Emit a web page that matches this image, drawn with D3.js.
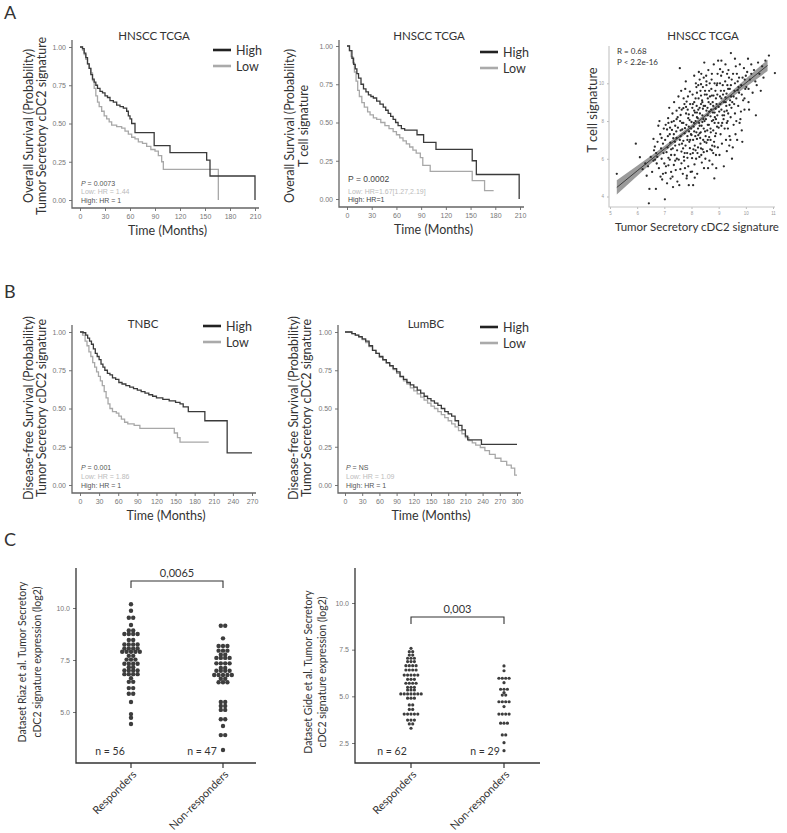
<!DOCTYPE html>
<html>
<head>
<meta charset="utf-8">
<script src="https://cdn.jsdelivr.net/npm/d3@7"></script>
<style>
  body { margin: 0; background: #fff; }
  svg { display: block; }
  text { font-family: Lato, "Open Sans", sans-serif; fill: #333; }
  .tk text { font-family: "Liberation Sans", Arial, sans-serif; font-size: 7px; fill: #777; }
  .tk line { stroke: #777; }
  .tiny text { font-family: "Liberation Sans", Arial, sans-serif; font-size: 4.5px; fill: #999; }
  .tiny line { stroke: #bbb; }
  .ann { font-family: "Liberation Sans", Arial, sans-serif; font-size: 7px; }
</style>
</head>
<body>
<script>
var width = 787,
    height = 833;

// ---- data ----
var survTicks = [0, 0.25, 0.5, 0.75, 1];
var monthTicks210 = [0, 30, 60, 90, 120, 150, 180, 210];
var monthTicks270 = [0, 30, 60, 90, 120, 150, 180, 210, 240, 270];
var monthTicks300 = [0, 30, 60, 90, 120, 150, 180, 210, 240, 270, 300];

// HNSCC TCGA, tumor secretory cDC2 signature  [months, survival]
var hnCdcHigh = [[0,1],[3,0.99],[5,0.96],[7,0.93],[9,0.89],[11,0.86],[13,0.82],[15,0.79],[17,0.77],[19,0.75],[21,0.73],[24,0.71],[27,0.70],[30,0.68],[33,0.67],[36,0.65],[40,0.64],[44,0.62],[48,0.61],[52,0.60],[56,0.58],[58,0.55],[60,0.53],[62,0.50],[66,0.44],[89,0.355],[108,0.31],[152,0.26],[156,0.157],[210,0]];
var hnCdcLow = [[0,1],[3,0.98],[5,0.95],[7,0.92],[9,0.89],[11,0.86],[13,0.83],[15,0.78],[17,0.73],[19,0.68],[21,0.64],[23,0.61],[26,0.58],[29,0.55],[32,0.53],[35,0.51],[38,0.49],[44,0.48],[50,0.47],[54,0.45],[58,0.43],[62,0.41],[66,0.40],[70,0.38],[75,0.37],[80,0.35],[85,0.33],[90,0.32],[94,0.29],[98,0.25],[100,0.20],[166,0]];

// HNSCC TCGA, T cell signature
var hnTHigh = [[0,1],[3,0.97],[6,0.92],[8,0.88],[10,0.85],[12,0.82],[14,0.79],[17,0.75],[20,0.72],[23,0.70],[26,0.68],[29,0.67],[32,0.66],[36,0.64],[40,0.62],[44,0.60],[47,0.58],[50,0.56],[53,0.54],[56,0.52],[59,0.50],[62,0.48],[66,0.46],[70,0.45],[85,0.42],[93,0.37],[108,0.325],[152,0.25],[157,0.16],[209,0]];
var hnTLow = [[0,1],[3,0.97],[5,0.93],[7,0.89],[9,0.83],[11,0.77],[13,0.71],[15,0.67],[18,0.63],[21,0.60],[25,0.57],[28,0.55],[32,0.53],[36,0.52],[41,0.50],[46,0.48],[51,0.46],[56,0.44],[60,0.42],[64,0.40],[68,0.38],[72,0.36],[76,0.34],[80,0.32],[84,0.30],[89,0.27],[92,0.22],[101,0.18],[152,0.12],[167,0.055],[178,0.055]];

// TNBC
var tnbcHigh = [[0,1],[5,0.995],[9,0.98],[12,0.96],[15,0.94],[18,0.92],[21,0.89],[24,0.86],[27,0.84],[30,0.82],[33,0.79],[36,0.77],[39,0.75],[43,0.73],[47,0.72],[51,0.70],[56,0.69],[61,0.67],[66,0.66],[72,0.65],[78,0.64],[84,0.63],[90,0.62],[96,0.61],[102,0.60],[108,0.59],[114,0.58],[120,0.57],[130,0.56],[140,0.55],[150,0.54],[157,0.53],[162,0.51],[170,0.48],[196,0.42],[231,0.21],[270,0.21]];
var tnbcLow = [[0,1],[4,0.98],[8,0.94],[11,0.91],[14,0.87],[17,0.84],[20,0.80],[23,0.77],[26,0.74],[29,0.71],[32,0.68],[35,0.65],[38,0.61],[41,0.57],[44,0.53],[47,0.50],[51,0.48],[57,0.47],[61,0.45],[65,0.43],[70,0.41],[75,0.40],[85,0.39],[94,0.37],[148,0.34],[153,0.31],[157,0.28],[202,0.28]];

// LumBC
var lumHigh = [[0,1],[6,1.0],[12,0.99],[18,0.98],[24,0.97],[30,0.955],[36,0.94],[42,0.91],[48,0.88],[54,0.86],[60,0.84],[66,0.82],[72,0.80],[78,0.78],[84,0.76],[90,0.74],[96,0.71],[102,0.69],[108,0.67],[114,0.655],[120,0.64],[126,0.62],[132,0.60],[138,0.58],[144,0.565],[150,0.55],[156,0.535],[162,0.52],[168,0.50],[174,0.48],[180,0.465],[186,0.45],[192,0.42],[198,0.39],[204,0.36],[210,0.32],[214,0.295],[238,0.265],[300,0.265]];
var lumLow = [[0,1],[6,1.0],[12,0.99],[18,0.98],[24,0.965],[30,0.95],[36,0.93],[42,0.905],[48,0.88],[54,0.86],[60,0.835],[66,0.815],[72,0.795],[78,0.775],[84,0.755],[90,0.73],[96,0.705],[102,0.68],[108,0.66],[114,0.635],[120,0.615],[126,0.595],[132,0.575],[138,0.555],[144,0.535],[150,0.515],[156,0.50],[162,0.48],[168,0.46],[174,0.44],[180,0.42],[186,0.40],[192,0.38],[198,0.355],[204,0.335],[210,0.31],[216,0.29],[222,0.275],[228,0.26],[236,0.245],[244,0.225],[252,0.20],[262,0.175],[272,0.155],[282,0.13],[290,0.11],[296,0.065],[300,0.065]];

// scatter: [cDC2 signature, T cell signature]
var scatterPts = [
 [5.25,5.2],[5.95,6.8],[6.1,6.08],[6.35,5.1],[6.43,3.64],[6.45,4.4],[6.4,5.6],[6.2,5.45],[6.55,5.3],[6.3,5.75],[6.5,6.1],[6.6,5.9],
 [6.69,4.4],[6.65,6.64],[6.7,6.3],[6.75,6.9],[6.8,5.5],[6.85,7.3],[6.6,7.05],[6.9,6.0],[6.95,5.2],[6.72,5.75],[6.88,6.55],[6.98,7.6],[6.92,4.9],[6.78,7.75],[6.82,8.0],[6.95,6.8],[6.62,6.45],[7.0,5.75],[6.86,5.05],[6.74,6.1],[6.97,6.3],[6.9,7.1],[6.66,5.95],
 [7.02,3.85],[7.05,5.25],[7.1,4.7],[7.15,5.65],[7.2,5.95],[7.25,6.2],[7.3,5.05],[7.35,5.67],[7.4,6.7],[7.45,7.1],[7.05,7.8],[7.14,8.15],[7.1,7.55],[7.2,7.3],[7.28,7.53],[7.33,7.09],[7.38,6.2],[7.42,5.4],[7.48,4.79],[7.12,6.6],[7.22,6.85],[7.3,8.4],[7.35,8.0],[7.18,8.7],[7.45,8.55],[7.4,7.75],[7.47,6.45],[7.25,5.3],[7.08,6.35],[7.15,6.05],[7.32,4.5],[7.4,5.9],[7.03,7.0],[7.27,7.95],[7.36,9.0],[7.44,7.45],[7.49,8.2],[7.21,7.65],[7.13,7.2],[7.46,6.0],[7.39,6.9],[7.06,5.6],[7.31,6.55],[7.23,4.95],
 [7.57,10.8],[7.6,8.32],[7.7,8.68],[7.82,9.03],[7.94,9.56],[7.88,8.15],[7.76,7.62],[7.63,6.38],[7.94,6.56],[7.63,5.76],[7.76,5.5],[7.82,4.96],[7.55,4.6],[7.6,7.2],[7.65,7.9],[7.7,6.95],[7.72,6.1],[7.75,7.35],[7.8,8.4],[7.85,7.0],[7.9,7.7],[7.95,8.9],[7.98,7.3],[7.52,9.3],[7.58,8.0],[7.62,9.6],[7.68,5.2],[7.73,5.9],[7.78,6.7],[7.84,6.3],[7.88,5.6],[7.92,6.9],[7.97,5.3],[7.55,6.75],[7.66,7.55],[7.74,8.9],[7.81,7.8],[7.87,9.3],[7.93,8.05],[7.99,7.6],[7.53,5.95],[7.59,5.45],[7.64,8.6],[7.71,9.2],[7.79,10.1],[7.86,8.6],[7.91,7.45],[7.96,6.25],[7.5,7.65],[7.69,6.55],[7.83,5.1],[7.9,4.6],[7.57,7.0],[7.77,9.7],[7.85,7.2],
 [8.02,6.03],[8.02,5.32],[8.0,7.26],[8.06,4.6],[8.05,8.3],[8.08,7.7],[8.1,9.0],[8.12,6.7],[8.15,8.0],[8.18,7.4],[8.2,9.5],[8.22,6.3],[8.25,8.6],[8.28,7.9],[8.3,10.2],[8.32,7.1],[8.35,8.9],[8.38,5.8],[8.4,8.3],[8.42,9.8],[8.45,7.6],[8.47,11.1],[8.48,6.9],[8.04,9.4],[8.07,6.5],[8.11,5.7],[8.14,7.2],[8.16,10.0],[8.19,8.8],[8.21,5.2],[8.24,7.6],[8.26,9.2],[8.29,6.1],[8.31,8.4],[8.34,7.4],[8.36,10.5],[8.39,9.1],[8.41,6.5],[8.44,8.1],[8.46,5.5],[8.49,9.4],[8.03,8.7],[8.09,7.9],[8.13,8.45],[8.17,6.0],[8.23,8.15],[8.27,10.6],[8.33,6.8],[8.37,7.75],[8.43,7.0],[8.06,7.0],[8.12,5.0],[8.18,9.8],[8.24,6.6],[8.3,8.7],[8.36,6.2],[8.42,8.65],[8.48,8.0],[8.1,10.4],[8.2,7.05],[8.33,9.6],[8.45,10.3],
 [8.5,8.8],[8.52,7.2],[8.55,9.9],[8.57,6.4],[8.6,8.3],[8.62,10.7],[8.64,7.8],[8.66,5.9],[8.68,9.3],[8.7,7.0],[8.72,8.6],[8.74,10.2],[8.76,6.7],[8.78,9.0],[8.8,7.5],[8.82,11.0],[8.84,4.96],[8.86,8.2],[8.88,9.6],[8.9,6.2],[8.92,8.9],[8.94,7.7],[8.96,10.5],[8.98,11.2],[8.51,6.0],[8.53,8.1],[8.56,9.4],[8.58,7.5],[8.61,5.5],[8.63,9.0],[8.65,8.5],[8.67,10.0],[8.69,6.5],[8.71,7.4],[8.73,9.7],[8.75,8.0],[8.77,5.7],[8.79,8.45],[8.81,9.35],[8.83,6.9],[8.85,10.0],[8.87,7.2],[8.89,8.65],[8.91,5.5],[8.93,9.9],[8.95,8.3],[8.97,6.6],[8.99,7.9],[8.54,10.4],[8.6,7.0],[8.7,8.9],[8.8,6.3],[8.9,9.2],[8.59,8.7],[8.85,7.9],
 [9.02,8.5],[9.05,10.0],[9.07,7.3],[9.1,9.2],[9.12,6.8],[9.15,10.6],[9.18,8.1],[9.2,9.6],[9.22,7.6],[9.25,11.0],[9.28,8.8],[9.3,6.4],[9.32,9.9],[9.35,8.4],[9.38,10.3],[9.4,7.2],[9.42,9.1],[9.45,11.6],[9.47,8.7],[9.49,6.0],[9.03,6.2],[9.06,8.9],[9.09,10.4],[9.13,7.9],[9.16,9.4],[9.19,5.6],[9.21,8.5],[9.24,10.1],[9.27,7.0],[9.29,9.45],[9.33,8.0],[9.36,10.7],[9.39,6.7],[9.41,9.7],[9.44,8.2],[9.48,10.2],[9.08,9.6],[9.14,8.3],[9.26,9.0],[9.34,7.6],[9.46,9.3],[9.1,11.2],[9.31,10.5],[9.43,7.0],
 [9.5,9.0],[9.53,10.5],[9.55,7.8],[9.58,9.6],[9.6,8.4],[9.63,10.9],[9.65,9.2],[9.68,7.0],[9.7,10.1],[9.72,8.8],[9.75,9.5],[9.78,11.0],[9.8,8.1],[9.83,9.9],[9.85,7.5],[9.88,10.3],[9.9,9.1],[9.93,10.8],[9.95,8.6],[9.98,9.7],[9.52,6.6],[9.57,8.9],[9.62,7.3],[9.67,10.5],[9.73,9.8],[9.77,7.9],[9.87,6.9],[9.96,10.2],[9.6,11.3],[9.82,8.5],
 [10.02,9.8],[10.05,10.6],[10.1,9.0],[10.15,10.2],[10.2,11.0],[10.25,9.5],[10.3,10.7],[10.37,8.3],[10.4,9.9],[10.45,11.1],[10.5,10.5],[10.55,9.6],[10.6,10.9],[10.65,10.3],[10.72,11.2],[10.85,11.47],[11.07,10.54],[10.12,8.6],[10.35,10.1],[10.08,11.3],
 [8.05,8.9],[8.15,9.2],[8.25,9.9],[8.35,9.35],[8.45,8.8],[8.55,8.55],[8.65,9.6],[8.75,9.35],[8.85,8.45],[8.95,9.4],[9.05,9.3],[9.15,9.9],[9.25,9.25],[9.35,9.7],[9.45,9.9],[8.1,8.55],[8.2,8.2],[8.3,7.75],[8.4,9.0],[8.5,9.6],[8.6,9.2],[8.7,8.25],[8.8,8.8],[8.9,8.1],[9.0,8.75],[9.1,8.6],[9.2,9.0],[9.3,8.55],[9.4,8.85],[7.9,8.35],[7.8,8.75],[7.7,7.9],[7.6,7.5],[8.0,7.95],[8.1,7.45],[8.2,8.45],[8.3,7.35],[8.4,7.95],[8.5,7.45],[8.6,7.8],[8.7,7.6],[8.8,8.05],[8.9,7.35],[9.0,7.65],[9.1,7.75],[9.2,8.3],[9.3,7.9],[7.65,6.8],[7.75,6.3],[7.85,6.05],[7.95,7.0],[8.05,6.3],[8.15,6.45],[8.25,7.25],[8.35,6.55],[8.45,6.35],[8.55,6.85],[8.65,7.15],[8.75,6.45],[8.85,6.65],[7.35,7.3],[7.25,6.5],[7.45,8.1],[7.55,8.7],[7.15,7.9],[9.55,9.3],[9.65,8.0],[9.75,10.3],[9.85,9.4],[9.95,9.2],[9.6,10.0],[9.7,9.65],[10.0,10.4],[10.1,9.7],[10.2,10.5],[8.95,10.0],[9.05,10.75],[8.75,10.5],[8.55,10.1],[8.35,9.95]
];
var scatterXTicks = [5, 6, 7, 8, 9, 10, 11];
var scatterYTicks = [4, 6, 8, 10];
// fitted line with confidence band
var fitX  = [5.25, 6, 7, 8, 9, 10, 10.8];
var fitY  = [4.48, 5.36, 6.52, 7.69, 8.85, 10.02, 10.95];
var fitLo = [4.10, 5.09, 6.36, 7.58, 8.72, 9.80, 10.65];
var fitHi = [4.86, 5.63, 6.68, 7.80, 8.98, 10.24, 11.25];

// panel C dot plots
var groups = ["Responders", "Non-responders"];
var riazResp = [10.18,9.87,9.53,9.53,9.18,8.92,8.92,8.75,8.75,8.75,8.75,8.46,8.46,8.25,8.25,8.25,8.25,8.05,8.05,8.05,8.05,7.9,7.9,7.9,7.9,7.9,7.7,7.7,7.52,7.52,7.52,7.32,7.32,7.32,7.32,7.15,7.15,7.0,7.0,7.0,7.0,6.82,6.82,6.82,6.82,6.62,6.45,6.45,6.15,6.15,5.88,5.88,5.48,4.9,4.72,4.42];
var riazNonResp = [9.15,9.15,8.54,8.17,8.17,8.17,7.95,7.95,7.95,7.75,7.75,7.6,7.6,7.6,7.6,7.34,7.34,7.34,7.34,7.12,7.12,6.98,6.98,6.98,6.98,6.78,6.78,6.78,6.78,6.78,6.6,6.6,6.43,6.43,6.43,5.48,5.48,5.29,5.29,5.1,5.1,4.65,4.65,4.33,3.89,3.89,3.17];
var gideResp = [7.57,7.39,7.39,7.21,7.21,7.04,7.04,7.04,6.86,6.86,6.86,6.64,6.64,6.64,6.64,6.41,6.41,6.41,6.41,6.14,6.14,6.14,6.14,6.14,5.91,5.91,5.91,5.7,5.7,5.7,5.7,5.48,5.48,5.48,5.34,5.34,5.34,5.13,5.13,5.13,5.13,5.13,5.13,5.13,4.9,4.9,4.9,4.54,4.54,4.3,4.3,4.05,4.05,4.05,4.05,4.05,3.73,3.73,3.73,3.52,3.52,3.29];
var gideNonResp = [6.63,6.37,5.97,5.97,5.97,5.97,5.73,5.38,5.38,5.38,5.2,5.07,5.07,4.71,4.71,4.71,4.71,4.45,4.05,4.05,4.05,4.05,3.56,3.56,3.56,2.93,2.93,2.52,2.09];
var riazTicks = [5, 7.5, 10];
var gideTicks = [2.5, 5, 7.5, 10];

var svg = d3.select("body").append("svg")
    .attr("width", width)
    .attr("height", height);

// panel letters
svg.append("text").attr("x", 4).attr("y", 19).style("font-size", "18px").text("A");
svg.append("text").attr("x", 4).attr("y", 298).style("font-size", "18px").text("B");
svg.append("text").attr("x", 4).attr("y", 546).style("font-size", "18px").text("C");

function rotLabel(x, y, txt, size) {
  svg.append("text")
      .attr("transform", "translate(" + x + "," + y + ") rotate(-90)")
      .attr("text-anchor", "middle")
      .attr("dominant-baseline", "central")
      .style("font-size", size + "px")
      .text(txt);
}

//kaplan-meier panel
function km(o) {
  var x = d3.scaleLinear().domain([0, o.tmax]).range(o.xr);
  var y = d3.scaleLinear().domain([0, 1]).range(o.yr);
  var g = svg.append("g");

  g.append("g").attr("class", "tk")
      .attr("transform", "translate(" + o.ax + ",0)")
      .call(d3.axisLeft(y).tickValues(survTicks).tickFormat(d3.format(".2f")).tickSize(3))
      .call(function(a){ a.select(".domain").remove(); });
  g.append("g").attr("class", "tk")
      .attr("transform", "translate(0," + o.base + ")")
      .call(d3.axisBottom(x).tickValues(o.ticks).tickSize(3))
      .call(function(a){ a.select(".domain").remove(); });

  g.append("path").attr("fill", "none").attr("stroke", "#666").attr("stroke-width", 1.3)
      .attr("d", "M" + o.ax + "," + o.top + "V" + o.base + "H" + (o.xr[1] + 4));

  var line = d3.line().x(function(d){ return x(d[0]); }).y(function(d){ return y(d[1]); })
      .curve(d3.curveStepAfter);
  g.append("path").datum(o.low).attr("fill", "none").attr("stroke", "#a8a8a8")
      .attr("stroke-width", 1.3).attr("d", line);
  g.append("path").datum(o.high).attr("fill", "none").attr("stroke", "#3a3a3a")
      .attr("stroke-width", 1.3).attr("d", line);

  g.append("text").attr("x", o.titleX).attr("y", o.titleY).attr("text-anchor", "middle")
      .style("font-size", "11.5px").text(o.title);

  // legend
  [["High", "#222"], ["Low", "#aaa"]].forEach(function(l, i) {
    var ly = o.legY + i * 16;
    g.append("line").attr("x1", o.legX).attr("x2", o.legX + 18).attr("y1", ly).attr("y2", ly)
        .attr("stroke", l[1]).attr("stroke-width", 2.6);
    g.append("text").attr("x", o.legX + 23).attr("y", ly + 4.5).style("font-size", "12.5px").text(l[0]);
  });

  g.append("text").attr("x", (o.xr[0] + o.xr[1]) / 2).attr("y", o.base + 27)
      .attr("text-anchor", "middle").style("font-size", "12.5px").text("Time (Months)");

  rotLabel(o.lab1X, o.labY, o.lab1, 12.5);
  rotLabel(o.lab2X, o.labY, o.lab2, 12.5);

  o.ann.forEach(function(a) {
    var t = g.append("text").attr("class", "ann").attr("x", o.xr[0] + 1).attr("y", a.y)
        .style("fill", a.color).style("font-size", (a.size || 7) + "px");
    if (a.italicP) {
      t.append("tspan").style("font-style", "italic").style("fill", a.color).text("P");
      t.append("tspan").style("fill", a.color).text(a.text);
    } else {
      t.text(a.text);
    }
  });
}

km({ tmax: 210, ticks: monthTicks210, xr: [80, 255], yr: [200, 47], ax: 72, top: 40, base: 208,
     high: hnCdcHigh, low: hnCdcLow, title: "HNSCC TCGA", titleX: 154, titleY: 40,
     legX: 213, legY: 50, lab1: "Overall Survival (Probability)", lab2: "Tumor Secretory cDC2 signature",
     lab1X: 28, lab2X: 41, labY: 126,
     ann: [{ y: 186, text: " = 0.0073", italicP: true, color: "#555" },
           { y: 194, text: "Low: HR = 1.44", color: "#bbb" },
           { y: 202.5, text: "High: HR = 1", color: "#555" }] });

km({ tmax: 210, ticks: monthTicks210, xr: [347, 520], yr: [199, 46], ax: 339, top: 40, base: 207,
     high: hnTHigh, low: hnTLow, title: "HNSCC TCGA", titleX: 429, titleY: 40,
     legX: 480, legY: 52, lab1: "Overall Survival (Probability)", lab2: "T cell signature",
     lab1X: 289, lab2X: 303, labY: 126,
     ann: [{ y: 181.5, text: "P = 0.0002", color: "#444", size: 8.5 },
           { y: 193.5, text: "Low: HR=1.67[1.27,2.19]", color: "#bbb" },
           { y: 202, text: "High: HR=1", color: "#444" }] });

km({ tmax: 270, ticks: monthTicks270, xr: [80, 252], yr: [485, 332], ax: 72, top: 325, base: 493,
     high: tnbcHigh, low: tnbcLow, title: "TNBC", titleX: 143, titleY: 328,
     legX: 203, legY: 326, lab1: "Disease-free Survival (Probability)", lab2: "Tumor Secretory cDC2 signature",
     lab1X: 28, lab2X: 41, labY: 408,
     ann: [{ y: 470, text: " = 0.001", italicP: true, color: "#555" },
           { y: 479, text: "Low: HR = 1.86", color: "#bbb" },
           { y: 488, text: "High: HR = 1", color: "#555" }] });

km({ tmax: 300, ticks: monthTicks300, xr: [345, 517], yr: [485, 332], ax: 338, top: 325, base: 493,
     high: lumHigh, low: lumLow, title: "LumBC", titleX: 426, titleY: 328,
     legX: 480, legY: 327, lab1: "Disease-free Survival (Probability)", lab2: "Tumor Secretory cDC2 signature",
     lab1X: 293, lab2X: 306, labY: 408,
     ann: [{ y: 470, text: " = NS", italicP: true, color: "#555" },
           { y: 479, text: "Low: HR = 1.09", color: "#bbb" },
           { y: 488, text: "High: HR = 1", color: "#555" }] });

// ---- correlation scatter ----
(function() {
  var x = d3.scaleLinear().domain([5, 11]).range([610, 773]);
  var y = d3.scaleLinear().domain([4, 10]).range([196.5, 83.3]);
  var g = svg.append("g");

  g.append("g").attr("class", "tiny").attr("transform", "translate(609,0)")
      .call(d3.axisLeft(y).tickValues(scatterYTicks).tickFormat(d3.format("d")).tickSize(2))
      .call(function(a){ a.select(".domain").remove(); });
  g.append("g").attr("class", "tiny").attr("transform", "translate(0,207)")
      .call(d3.axisBottom(x).tickValues(scatterXTicks).tickFormat(d3.format("d")).tickSize(2))
      .call(function(a){ a.select(".domain").remove(); });
  g.append("path").attr("fill", "none").attr("stroke", "#c4c4c4").attr("stroke-width", 1.1)
      .attr("d", "M609,46V207H775");

  var band = fitX.map(function(v, i){ return [v, fitLo[i], fitHi[i], fitY[i]]; });
  g.append("path").datum(band).attr("fill", "#8a8a8a").attr("opacity", 0.85)
      .attr("d", d3.area().x(function(d){ return x(d[0]); })
        .y0(function(d){ return y(d[1]); }).y1(function(d){ return y(d[2]); }).curve(d3.curveMonotoneX));

  g.selectAll("circle").data(scatterPts).join("circle")
      .attr("cx", function(d){ return x(d[0]); })
      .attr("cy", function(d){ return y(d[1]); })
      .attr("r", 1.15).attr("fill", "#2b2b2b");

  g.append("path").datum(band).attr("fill", "none").attr("stroke", "#333").attr("stroke-width", 0.9)
      .attr("d", d3.line().x(function(d){ return x(d[0]); }).y(function(d){ return y(d[3]); }));

  g.append("text").attr("x", 703).attr("y", 40).attr("text-anchor", "middle")
      .style("font-size", "11.5px").text("HNSCC TCGA");
  g.append("text").attr("x", 617).attr("y", 54).style("font-size", "8px").text("R = 0.68");
  g.append("text").attr("x", 617).attr("y", 65).style("font-size", "8px").text("P < 2.2e-16");
  g.append("text").attr("x", 697).attr("y", 231).attr("text-anchor", "middle")
      .style("font-size", "11.5px").text("Tumor Secretory cDC2 signature");
  rotLabel(592, 110, "T cell signature", 13);
})();

// ---- dot plots ----
function dotPlot(o) {
  var x = d3.scalePoint().domain(groups).range(o.xr);
  var y = d3.scaleLinear().domain(o.ydom).range(o.yr);
  var g = svg.append("g");

  g.append("g").attr("class", "tk").attr("transform", "translate(" + o.ax + ",0)")
      .call(d3.axisLeft(y).tickValues(o.ticks).tickFormat(d3.format(".1f")).tickSize(3))
      .call(function(a){ a.select(".domain").remove(); });
  g.append("path").attr("fill", "none").attr("stroke", "#333").attr("stroke-width", 1.3)
      .attr("d", "M" + o.ax + "," + o.top + "V" + o.base + "H" + o.right);
  groups.forEach(function(c) {
    g.append("line").attr("x1", x(c)).attr("x2", x(c)).attr("y1", o.base).attr("y2", o.base + 5)
        .attr("stroke", "#333").attr("stroke-width", 1.2);
    g.append("text").attr("transform", "translate(" + (x(c) + 3) + "," + (o.base + 9) + ") rotate(-45)")
        .attr("text-anchor", "end").attr("dominant-baseline", "central")
        .style("font-size", "11px").text(c);
  });

  [o.resp, o.non].forEach(function(vals, gi) {
    var cx = x(groups[gi]);
    var rows = d3.groups(vals, function(v){ return v; });
    var pts = [];
    rows.forEach(function(r) {
      var k = r[1].length;
      r[1].forEach(function(v, i){ pts.push([cx + (i - (k - 1) / 2) * o.gap, y(v)]); });
    });
    g.selectAll(null).data(pts).join("circle")
        .attr("cx", function(d){ return d[0]; }).attr("cy", function(d){ return d[1]; })
        .attr("r", o.r).attr("fill", "#3d3d3d");
    g.append("text").attr("x", cx - o.nOff).attr("y", o.base - 8).attr("text-anchor", "middle")
        .style("font-size", "10.5px").text("n = " + vals.length);
  });

  var x0 = x(groups[0]), x1 = x(groups[1]);
  g.append("path").attr("fill", "none").attr("stroke", "#333").attr("stroke-width", 1.1)
      .attr("d", "M" + x0 + "," + (o.brY + 7) + "V" + o.brY + "H" + x1 + "V" + (o.brY + 7));
  g.append("text").attr("x", (x0 + x1) / 2).attr("y", o.brY - 4).attr("text-anchor", "middle")
      .style("font-size", "11px").text(o.pval);

  rotLabel(o.lab1X, o.labY, o.lab1, 10.5);
  rotLabel(o.lab2X, o.labY, o.lab2, 10.5);
}

dotPlot({ xr: [131, 223], ydom: [5, 10], yr: [712, 608], ticks: riazTicks, ax: 76, top: 568, base: 763, right: 256,
          resp: riazResp, non: riazNonResp, r: 2.2, gap: 4.4, nOff: 21, brY: 581, pval: "0,0065",
          lab1: "Dataset Riaz et al. Tumor Secretory", lab2: "cDC2 signature expression (log2)",
          lab1X: 22, lab2X: 37, labY: 662 });

dotPlot({ xr: [411, 504], ydom: [2.5, 10], yr: [743, 603], ticks: gideTicks, ax: 355, top: 568, base: 763, right: 540,
          resp: gideResp, non: gideNonResp, r: 1.6, gap: 3.4, nOff: 19, brY: 617, pval: "0,003",
          lab1: "Dataset Gide et al.  Tumor Secretory", lab2: "cDC2 signature expression (log2)",
          lab1X: 308, lab2X: 322, labY: 672 });
</script>
</body>
</html>
